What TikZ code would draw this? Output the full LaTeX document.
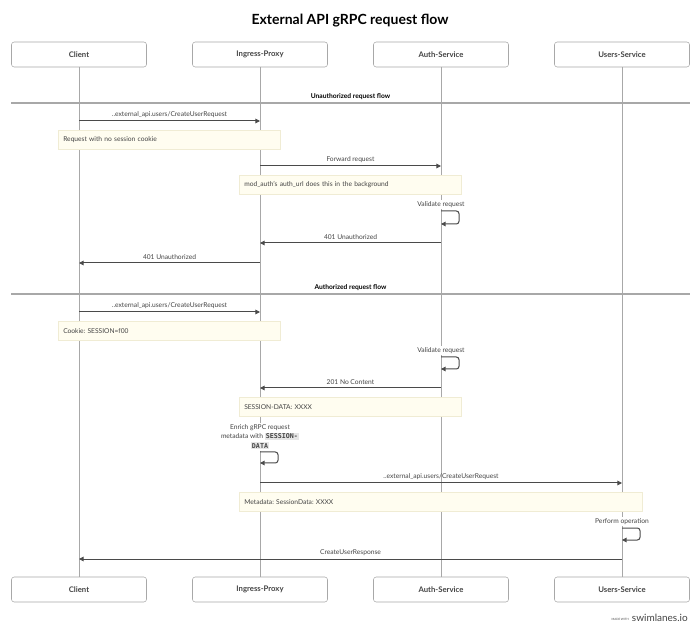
\documentclass[tikz,border=0pt]{standalone}
\usepackage{fontspec}
\setmainfont{Lato}
\setmonofont{DejaVu Sans Mono}
\usetikzlibrary{arrows.meta}
\frenchspacing

\definecolor{txt}{HTML}{444444}
\definecolor{lane}{HTML}{A8A8A8}
\definecolor{msgline}{HTML}{4A4A4A}
\definecolor{notefill}{HTML}{FFFDF0}
\definecolor{notedraw}{HTML}{F0ECD4}
\definecolor{codebg}{HTML}{E6E6E6}

\newcommand{\codebit}[1]{{\setlength{\fboxsep}{0.8pt}\colorbox{codebg}{\ttfamily\bfseries #1}}}

\tikzset{
  actor/.style={draw=lane, fill=white, rounded corners=2pt, minimum width=101.25pt,
    minimum height=18.75pt, text=txt, font=\bfseries\fontsize{5.8}{7}\selectfont},
  lifeline/.style={draw=lane, line width=0.6pt},
  section/.style={draw=lane, line width=0.8pt},
  msg/.style={draw=msgline, line width=0.75pt, -{Triangle[length=3.5pt,width=3.5pt]}},
  lbl/.style={above, text=txt, inner sep=2pt, font=\fontsize{5}{6}\selectfont},
  selflbl/.style={lbl, fill=white, inner sep=1pt},
  note/.style={draw=notedraw, fill=notefill, anchor=north west, inner xsep=3.75pt,
    minimum height=14.25pt, text width=#1, align=left, text=txt,
    font=\fontsize{5}{6}\selectfont},
}

\begin{document}
\begin{tikzpicture}[x=0.75pt, y=-0.75pt]
    \useasboundingbox (0,0) rectangle (700,634);

    % Titre
    \node[text=black, font=\bfseries\fontsize{10.5}{12}\selectfont] (title) at (350,21) {External API gRPC request flow};

    % Acteurs et lignes de vie
    \foreach \n/\x/\t in {client/79/Client, proxy/260/Ingress-Proxy, auth/441/Auth-Service, users/622/Users-Service} {
        \node[actor] (\n) at (\x,54.5) {\t};
        \node[actor] (\n-b) at (\x,589.5) {\t};
        \draw[lifeline] (\n) -- (\n-b);
    }

    % Sections
    \coordinate (s1l) at (11,103);
    \coordinate (s1r) at (690,103);
    \draw[section] (s1l) -- (s1r) node[midway, above, text=black, inner sep=2pt, font=\bfseries\fontsize{5}{6}\selectfont] (s1) {Unauthorized request flow};
    \coordinate (s2l) at (11,294);
    \coordinate (s2r) at (690,294);
    \draw[section] (s2l) -- (s2r) node[midway, above, text=black, inner sep=2pt, font=\bfseries\fontsize{5}{6}\selectfont] (s2) {Authorized request flow};

    % Notes
    \node[note=159pt] (n1) at (58,130) {Request with no session cookie};
    \node[note=159pt] (n2) at (239,175) {mod\_auth's auth\_url does this in the background};
    \node[note=159pt] (n3) at (58,321) {Cookie: SESSION=f00};
    \node[note=159pt] (n4) at (239,397) {SESSION-DATA: XXXX};
    \node[note=294.75pt] (n5) at (239,492) {Metadata: SessionData: XXXX};

    % Requete sans cookie
    \draw[msg] (client |- 0,121) -- (proxy |- 0,121) node[midway,lbl] {..external\_api.users/CreateUserRequest};
    \draw[msg] (proxy |- 0,166) -- (auth |- 0,166) node[midway,lbl] {Forward request};
    \node[selflbl, anchor=south] (v1) at (auth |- 0,209) {Validate request};
    \draw[msg, rounded corners=2pt] (auth |- 0,211) -- ++(18,0) -- ++(0,13) -- (auth |- 0,224);
    \draw[msg] (auth |- 0,243) -- (proxy |- 0,243) node[midway,lbl] {401 Unauthorized};
    \draw[msg] (proxy |- 0,263) -- (client |- 0,263) node[midway,lbl] {401 Unauthorized};

    % Requete avec cookie
    \draw[msg] (client |- 0,312) -- (proxy |- 0,312) node[midway,lbl] {..external\_api.users/CreateUserRequest};
    \node[selflbl, anchor=south] (v2) at (auth |- 0,355) {Validate request};
    \draw[msg, rounded corners=2pt] (auth |- 0,357) -- ++(18,0) -- ++(0,12) -- (auth |- 0,369);
    \draw[msg] (auth |- 0,388) -- (proxy |- 0,388) node[midway,lbl] {201 No Content};
    \node[selflbl, anchor=south, align=center, font=\fontsize{5}{7.2}\selectfont] (enrich) at (proxy |- 0,451)
        {Enrich gRPC request\\metadata with \codebit{SESSION-}\\\codebit{DATA}};
    \draw[msg, rounded corners=2pt] (proxy |- 0,452) -- ++(18,0) -- ++(0,11) -- (proxy |- 0,463);
    \draw[msg] (proxy |- 0,483) -- (users |- 0,483) node[midway,lbl] {..external\_api.users/CreateUserRequest};
    \node[selflbl, anchor=south] (perform) at (users |- 0,526) {Perform operation};
    \draw[msg, rounded corners=2pt] (users |- 0,528) -- ++(18,0) -- ++(0,12) -- (users |- 0,540);
    \draw[msg] (users |- 0,559) -- (client |- 0,559) node[midway,lbl] {CreateUserResponse};

    % Pied de page
    \node[anchor=south east, inner sep=0pt, text=txt, font=\fontsize{7.5}{8}\selectfont] (brand) at (688,622) {swimlanes.io};
    \node[anchor=south east, inner sep=0pt, text=txt, font=\fontsize{2.2}{3}\selectfont] (made) at ([xshift=-2pt,yshift=0.8pt]brand.south west) {MADE WITH};

\end{tikzpicture}
\end{document}
